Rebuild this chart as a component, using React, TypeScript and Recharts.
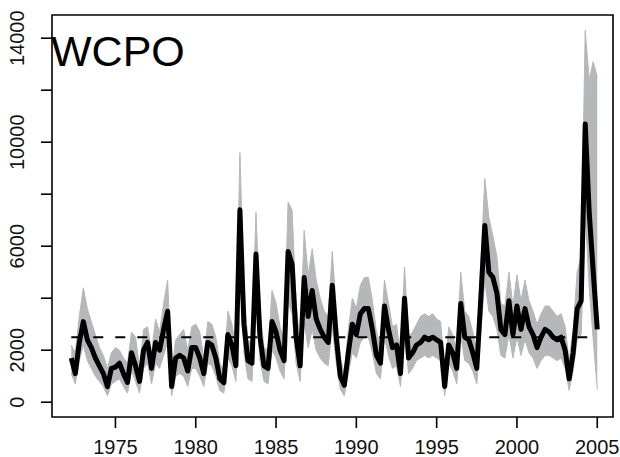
import React from 'react';
import { ComposedChart, Line, Area, XAxis, YAxis, ReferenceLine, ReferenceArea } from 'recharts';

// quarterly time steps (decimal year)
const quarters = [
  1972.25, 1972.5, 1972.75,
  1973, 1973.25, 1973.5, 1973.75,
  1974, 1974.25, 1974.5, 1974.75,
  1975, 1975.25, 1975.5, 1975.75,
  1976, 1976.25, 1976.5, 1976.75,
  1977, 1977.25, 1977.5, 1977.75,
  1978, 1978.25, 1978.5, 1978.75,
  1979, 1979.25, 1979.5, 1979.75,
  1980, 1980.25, 1980.5, 1980.75,
  1981, 1981.25, 1981.5, 1981.75,
  1982, 1982.25, 1982.5, 1982.75,
  1983, 1983.25, 1983.5, 1983.75,
  1984, 1984.25, 1984.5, 1984.75,
  1985, 1985.25, 1985.5, 1985.75,
  1986, 1986.25, 1986.5, 1986.75,
  1987, 1987.25, 1987.5, 1987.75,
  1988, 1988.25, 1988.5, 1988.75,
  1989, 1989.25, 1989.5, 1989.75,
  1990, 1990.25, 1990.5, 1990.75,
  1991, 1991.25, 1991.5, 1991.75,
  1992, 1992.25, 1992.5, 1992.75,
  1993, 1993.25, 1993.5, 1993.75,
  1994, 1994.25, 1994.5, 1994.75,
  1995, 1995.25, 1995.5, 1995.75,
  1996, 1996.25, 1996.5, 1996.75,
  1997, 1997.25, 1997.5, 1997.75,
  1998, 1998.25, 1998.5, 1998.75,
  1999, 1999.25, 1999.5, 1999.75,
  2000, 2000.25, 2000.5, 2000.75,
  2001, 2001.25, 2001.5, 2001.75,
  2002, 2002.25, 2002.5, 2002.75,
  2003, 2003.25, 2003.5, 2003.75,
  2004, 2004.25, 2004.5, 2004.75,
  2005,
];

// estimate (black line)
const estimate = [
  1700, 1100, 2300,
  3100, 2400, 2100, 1700,
  1400, 1100, 600, 1300,
  1350, 1500, 1100, 760,
  1900, 1400, 800, 2000,
  2300, 1300, 2300, 2000,
  2800, 3500, 600, 1700,
  1800, 1700, 1200, 2100,
  2100, 1700, 1100, 2300,
  2200, 1700, 900, 750,
  2600, 2200, 1400, 7400,
  3000, 1600, 1500, 5700,
  2500, 1400, 1300, 3100,
  2700, 2000, 1600, 5800,
  5300, 2500, 1400, 4800,
  3300, 4300, 3200, 2800,
  2500, 2300, 4500, 2500,
  1000, 650, 1900, 3000,
  2600, 3400, 3600, 3600,
  2800, 1800, 1500, 3700,
  2800, 2100, 2200, 1100,
  4000, 1700, 1900, 2200,
  2300, 2500, 2400, 2500,
  2400, 2300, 600, 2200,
  1900, 1300, 3800, 2500,
  2400, 1900, 1300, 4000,
  6800, 5000, 4800, 4200,
  2800, 2600, 3900, 2600,
  3700, 2800, 3600, 2900,
  2600, 2100, 2500, 2800,
  2700, 2500, 2400, 2500,
  2000, 900, 1900, 3600,
  3900, 10700, 7300, 5000,
  2800,
];

// grey interval, lower edge
const lower = [
  1100, 700, 1600,
  2200, 1600, 1300, 1000,
  800, 600, 250, 700,
  800, 900, 600, 350,
  1200, 800, 350, 1300,
  1500, 700, 1500, 1300,
  1800, 2300, 250, 1000,
  1100, 1000, 600, 1300,
  1300, 1000, 600, 1500,
  1400, 1000, 450, 350,
  1700, 1400, 800, 5000,
  1900, 900, 800, 3700,
  1600, 800, 700, 2000,
  1700, 1200, 900, 3800,
  3400, 1500, 800, 3100,
  2100, 2800, 2000, 1700,
  1500, 1400, 2900, 1500,
  500, 250, 1100, 1900,
  1700, 2300, 2500, 2500,
  1900, 1100, 900, 2500,
  1800, 1300, 1400, 600,
  2700, 1100, 1300, 1600,
  1700, 1800, 1700, 1800,
  1700, 1600, 250, 1500,
  1200, 700, 2600, 1600,
  1500, 1200, 700, 2700,
  4700, 3500, 3300, 2800,
  1800, 1700, 2600, 1700,
  2500, 1800, 2400, 1900,
  1700, 1300, 1600, 1800,
  1800, 1700, 1600, 1700,
  1300, 450, 1200, 2400,
  2600, 7300, 4400, 2400,
  500,
];

// grey interval, upper edge
const upper = [
  2200, 1900, 3300,
  4400, 3600, 3100, 2600,
  2100, 1800, 1300, 1900,
  2100, 2000, 1700, 1500,
  2700, 2500, 1300, 2800,
  2900, 1900, 3200, 2700,
  3800, 4700, 1100, 2400,
  2600, 2800, 2000, 2900,
  3000, 2700, 1700, 3100,
  3000, 2500, 1500, 1200,
  3500, 3000, 2100, 9600,
  4200, 2400, 2200, 7300,
  3500, 2100, 2000, 4300,
  3800, 2900, 2400, 7700,
  7400, 3800, 2200, 6600,
  4900, 5900, 4700, 4000,
  3500, 3300, 5800, 3600,
  1700, 1100, 2800, 4000,
  3600, 4500, 4800, 4800,
  3900, 2700, 2200, 4700,
  3800, 2900, 3000, 1800,
  5200, 2500, 2700, 3000,
  3300, 3400, 3300, 3400,
  3200, 3100, 1100, 2900,
  2600, 2000, 5000, 3500,
  3300, 2700, 2000, 5400,
  8600, 7100, 6400, 5600,
  3800, 3700, 5000, 3700,
  4900, 3900, 4700, 3900,
  3500, 3000, 3400, 3700,
  3700, 3500, 3300, 3400,
  2900, 1600, 2800, 5000,
  5600, 14300, 12400, 13100,
  12500,
];

const meanLevel = 2500;
const xTicks = [1975, 1980, 1985, 1990, 1995, 2000, 2005];
const yTicks = [0, 2000, 4000, 6000, 8000, 10000, 12000, 14000];
const yLabelled = [0, 2000, 6000, 10000, 14000];

const X_DOMAIN: [number, number] = [1971.05, 2005.98];
const Y_DOMAIN: [number, number] = [-569, 14892];

const FONT = '"Liberation Sans", Arial, Helvetica, sans-serif';

const data = quarters.map((t, i) => ({
  t,
  est: estimate[i],
  band: [lower[i], upper[i]],
}));

const XTick = (props: any) => {
  const { x, payload } = props;
  return (
    <text x={x} y={454} textAnchor="middle" fontSize={20} fontFamily={FONT} fill="#111">
      {payload.value}
    </text>
  );
};

const YTick = (props: any) => {
  const { y, payload } = props;
  if (!yLabelled.includes(payload.value)) return <g />;
  return (
    <text
      x={24}
      y={y}
      transform={`rotate(-90 24 ${y})`}
      textAnchor="middle"
      fontSize={20}
      fontFamily={FONT}
      fill="#111"
    >
      {payload.value}
    </text>
  );
};

export default function App() {
  return (
    <div style={{ position: 'absolute', left: 0, top: 0, width: 620, height: 457, background: '#fff' }}>
      <ComposedChart width={620} height={457} data={data} margin={{ top: 15, right: 7, bottom: 0, left: 0 }}>
        <XAxis
          dataKey="t"
          type="number"
          domain={X_DOMAIN}
          ticks={xTicks}
          allowDataOverflow
          axisLine={false}
          tickSize={11}
          tickLine={{ stroke: '#000', strokeWidth: 1.6 }}
          tick={<XTick />}
          height={40}
          interval={0}
        />
        <YAxis
          type="number"
          domain={Y_DOMAIN}
          ticks={yTicks}
          allowDataOverflow
          axisLine={false}
          tickSize={11}
          tickLine={{ stroke: '#000', strokeWidth: 1.6 }}
          tick={<YTick />}
          width={52}
          interval={0}
        />
        <Area
          dataKey="band"
          type="linear"
          stroke="#b6b7b9"
          strokeWidth={1}
          fill="#b6b7b9"
          fillOpacity={1}
          isAnimationActive={false}
        />
        <ReferenceLine
          segment={[
            { x: quarters[0], y: meanLevel },
            { x: quarters[quarters.length - 1], y: meanLevel },
          ]}
          stroke="#000"
          strokeWidth={2}
          strokeDasharray="10 12"
        />
        <Line
          dataKey="est"
          type="linear"
          stroke="#000"
          strokeWidth={5}
          strokeLinejoin="round"
          dot={false}
          isAnimationActive={false}
        />
        <ReferenceArea
          x1={X_DOMAIN[0]}
          x2={X_DOMAIN[1]}
          y1={Y_DOMAIN[0]}
          y2={Y_DOMAIN[1]}
          fill="none"
          stroke="#000"
          strokeWidth={1.6}
          ifOverflow="visible"
        />
      </ComposedChart>
      <svg width={620} height={457} style={{ position: 'absolute', left: 0, top: 0, pointerEvents: 'none' }}>
        <text x={51} y={66} fontSize={43} fontFamily={FONT} fill="#000">
          WCPO
        </text>
      </svg>
    </div>
  );
}
